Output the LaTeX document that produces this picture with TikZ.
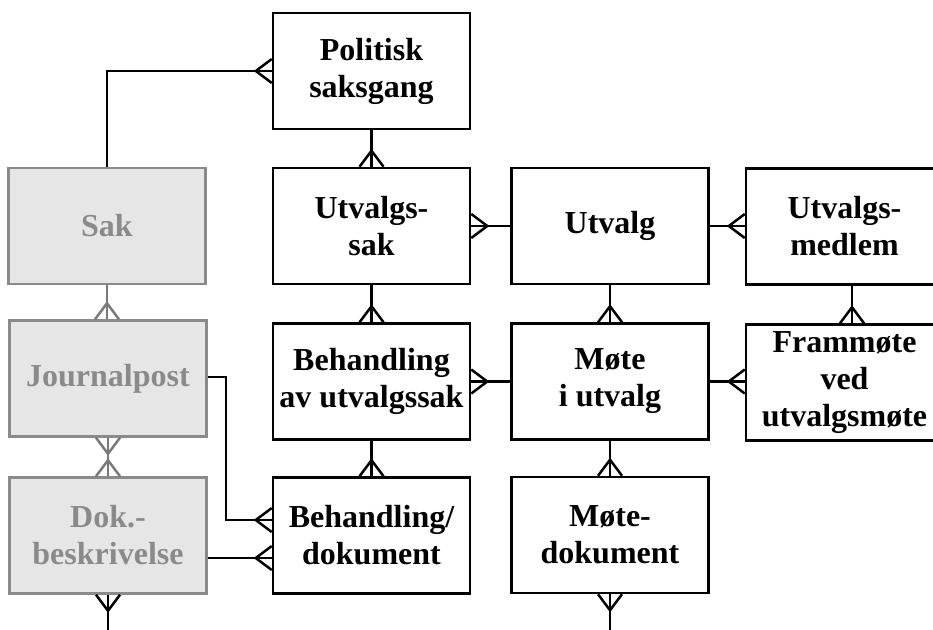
\documentclass[tikz,border=0pt]{standalone}
\usepackage{fontspec}
\setmainfont{Liberation Serif}
\definecolor{boxgrey}{HTML}{8A8A8A}
\definecolor{fillgrey}{HTML}{E6E6E6}
\definecolor{textgrey}{HTML}{8A8A8A}
\definecolor{linegrey}{HTML}{7A7A7A}
\begin{document}
\begin{tikzpicture}[x=1pt,y=-1pt,line width=2.5pt,
  box/.style={draw=black,fill=white,minimum width=197pt,minimum height=116pt,inner sep=0pt,align=center,
    font=\fontsize{32}{37}\selectfont\bfseries},
  gbox/.style={box,draw=boxgrey,fill=fillgrey,text=textgrey},
  conn/.style={draw=black},
  gconn/.style={draw=linegrey},
  crowW/.pic={\draw (-16pt,0pt) -- (0pt,12pt) (-16pt,0pt) -- (0pt,-12pt);},
  crowE/.pic={\draw (16pt,0pt) -- (0pt,12pt) (16pt,0pt) -- (0pt,-12pt);},
  crowN/.pic={\draw (0pt,16pt) -- (12pt,0pt) (0pt,16pt) -- (-12pt,0pt);},
  crowS/.pic={\draw (0pt,-16pt) -- (12pt,0pt) (0pt,-16pt) -- (-12pt,0pt);}]
\useasboundingbox (0,0) rectangle (933,629);
\clip (0,0) rectangle (933,629);
% nodes
\node[box] (ps) at (371.5,71) {Politisk\\saksgang};
\node[gbox] (sak) at (107,226) {Sak};
\node[box] (us) at (371.5,226) {Utvalgs-\\sak};
\node[box] (ut) at (610,226) {Utvalg};
\node[box] (um) at (844.5,226.5) {Utvalgs-\\medlem};
\node[gbox] (jp) at (108,378.5) {Journalpost};
\node[box] (ba) at (371.5,381.5) {Behandling\\av utvalgssak};
\node[box] (mu) at (610,381.5) {Møte\\i utvalg};
\node[box] (fm) at (844.5,382.5) {Frammøte\\ved\\utvalgsmøte};
\node[gbox] (dk) at (108,535.5) {Dok.-\\beskrivelse};
\node[box] (bd) at (371.5,535.5) {Behandling/\\dokument};
\node[box] (md) at (610,535) {Møte-\\dokument};
\coordinate (mdend) at (610,640);
\coordinate (dkend) at (108,640);
% connectors
\draw[conn] (sak.north) |- (ps.west);
\pic at (ps.west) {crowW};
\draw[conn] (ps.south) -- (us.north);
\pic at (us.north) {crowN};
\draw[conn] (us.east) -- (ut.west);
\pic at (us.east) {crowE};
\draw[conn] (ut.east) -- (ut.east -| um.west);
\pic at (ut.east -| um.west) {crowW};
\draw[conn] (ut.south) -- (mu.north);
\pic at (mu.north) {crowN};
\draw[conn] ([xshift=7.5pt]um.south) -- ([xshift=7.5pt]fm.north);
\pic at ([xshift=7.5pt]fm.north) {crowN};
\draw[conn] (mu.west) -- (ba.east);
\pic at (ba.east) {crowE};
\draw[conn] (mu.east) -- (mu.east -| fm.west);
\pic at (mu.east -| fm.west) {crowW};
\draw[conn] (us.south) -- (ba.north);
\pic at (ba.north) {crowN};
\draw[conn] (ba.south) -- (bd.north);
\pic at (bd.north) {crowN};
\draw[conn] (mu.south) -- (md.north);
\pic at (md.north) {crowN};
\draw[conn] (md.south) -- (mdend);
\pic at (md.south) {crowS};
\draw[gconn] (sak.south) -- (jp.north -| sak.south);
\pic[color=linegrey] at (jp.north -| sak.south) {crowN};
\draw[gconn] (jp.south) -- (dk.north);
\pic[color=linegrey] at (jp.south) {crowS};
\pic[color=linegrey] at (dk.north) {crowN};
\draw[conn] (dk.south) -- (dkend);
\pic at (dk.south) {crowS};
\draw[conn] ([yshift=1.5pt]jp.east) -- ++(18,0) |- ([yshift=15.5pt]bd.west);
\pic at ([yshift=15.5pt]bd.west) {crowW};
\draw[conn] ([yshift=-22.5pt]dk.east) -- ([yshift=-22.5pt]bd.west);
\pic at ([yshift=-22.5pt]bd.west) {crowW};
\end{tikzpicture}
\end{document}
